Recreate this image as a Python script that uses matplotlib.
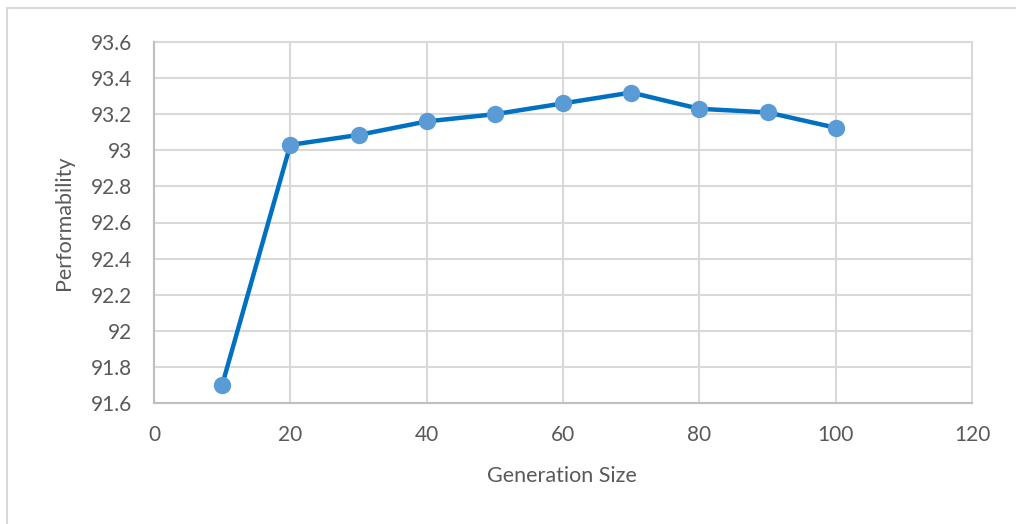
import matplotlib.pyplot as plt
from matplotlib.patches import Rectangle

plt.rcParams['font.family'] = ['Lato', 'DejaVu Sans']

gen_size = [10, 20, 30, 40, 50, 60, 70, 80, 90, 100]
performability = [91.70, 93.03, 93.085, 93.16, 93.20, 93.26, 93.32, 93.23, 93.21, 93.125]
x_ticks = [0, 20, 40, 60, 80, 100, 120]
y_ticks = [91.6, 91.8, 92, 92.2, 92.4, 92.6, 92.8, 93, 93.2, 93.4, 93.6]
y_tick_labels = ['91.6', '91.8', '92', '92.2', '92.4', '92.6', '92.8', '93', '93.2', '93.4', '93.6']

text_col = '#595959'
grid_col = '#D9D9D9'

fig = plt.figure(figsize=(10.16, 5.24), dpi=100)
ax = fig.add_axes([154/1016, 1 - 403/524, 818/1016, 361/524])

# outer chart border
fig.patches.append(Rectangle((7/1016, -0.1), 1.2, 1.1 - 8/524, transform=fig.transFigure,
                             fill=False, edgecolor=grid_col, linewidth=1.5))

ax.plot(gen_size, performability, color='#0070C0', linewidth=3.2, zorder=3)
ax.plot(gen_size, performability, linestyle='none', marker='o', markersize=11.5,
        markerfacecolor='#5B9BD5', markeredgecolor='#5B9BD5', zorder=4)

ax.set_xlim(0, 120)
ax.set_ylim(91.6, 93.6)
ax.set_xticks(x_ticks)
ax.set_yticks(y_ticks)
ax.set_yticklabels(y_tick_labels)

ax.grid(True, color=grid_col, linewidth=1.5)
ax.set_axisbelow(True)
for g in ax.get_xgridlines() + ax.get_ygridlines():
    g.set_clip_on(False)
for s in ['top', 'right']:
    ax.spines[s].set_visible(False)
for s in ['left', 'bottom']:
    ax.spines[s].set_color('#BFBFBF')
    ax.spines[s].set_linewidth(1.5)

ax.tick_params(length=0, labelsize=15, labelcolor=text_col)
ax.tick_params(axis='x', pad=16)
ax.tick_params(axis='y', pad=16)

ax.set_xlabel('Generation Size', fontsize=15.5, color=text_col)
ax.set_ylabel('Performability', fontsize=15.5, color=text_col)
ax.xaxis.set_label_coords(0.499, -0.175)
ax.yaxis.set_label_coords(-0.098, 0.5)

fig.savefig('out.png', dpi=100)
